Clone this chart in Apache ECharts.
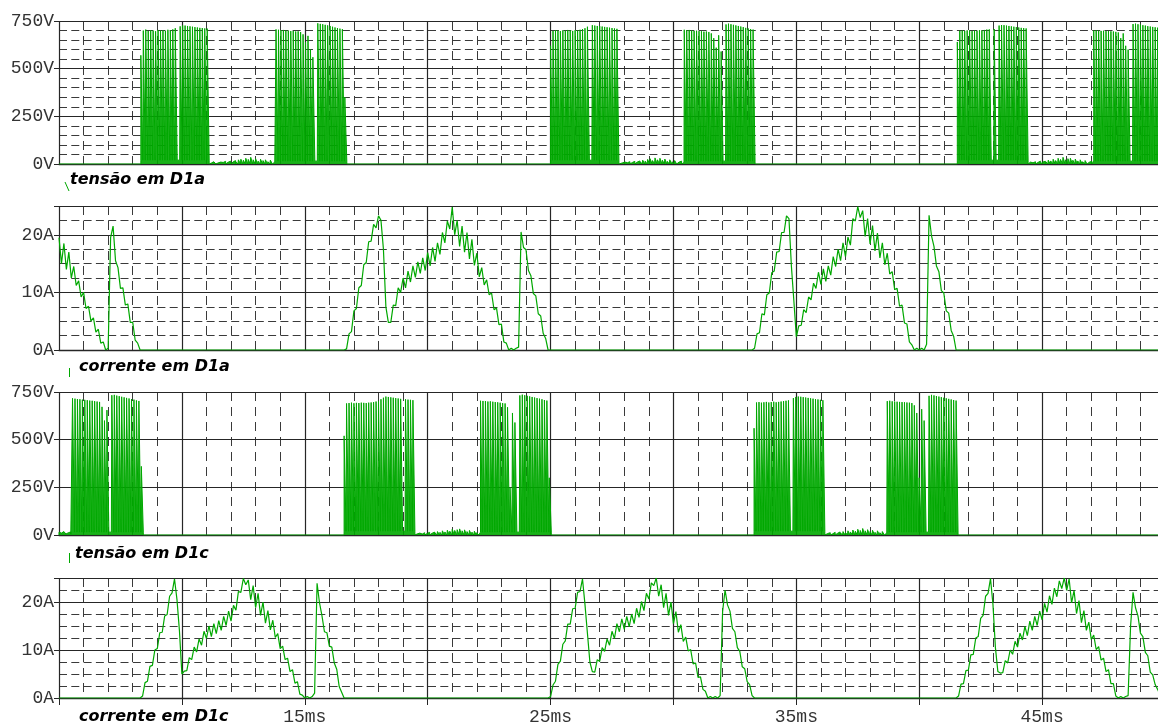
<!DOCTYPE html>
<html><head><meta charset="utf-8">
<script src="https://cdn.jsdelivr.net/npm/echarts@6/dist/echarts.min.js"></script>
<style>html,body{margin:0;padding:0;background:#fff}#c{width:1158px;height:726px}</style>
</head><body><div id="c"></div>
<script>
// ---------------- axis / tick data ----------------
const T_MIN = 5, T_MAX = 50;            // ms
const PULSE_STEP = 0.1;                 // ms between switching pulses
const PULSE_WIDTH = 0.08;               // ms a pulse stays high
const CURRENT_STEP = 0.1;               // ms between current samples
const xTickLabels = ['15ms', '25ms', '35ms', '45ms'];
const voltTicks = [0, 250, 500, 750];
const currTicks = [0, 10, 20];
const traceNames = ['tensão em D1a', 'corrente em D1a', 'tensão em D1c', 'corrente em D1c'];

// ---------------- tensão em D1a (pulse tops, V) ----------------
const vD1aBurst1 = [570,700,705,698,702,700,696,703,699,701,698,704,700,706,712,20,722,727,726,724,722,720,718,716,714,713,711,710];
const vD1aNoise1 = [8,5,12,6,10,8,14,9,15,10,18,12,22,25,20,30,24,35,22,28,15,25,18,22,12,20,10];
const vD1aBurst2 = [706,704,702,703,700,699,697,698,695,696,692,680,640,672,600,560,15,738,735,733,730,727,724,720,716,713,710,707,350];
const vD1aBurst3 = [620,698,702,700,697,701,699,703,700,698,702,700,704,708,712,720,20,728,726,724,723,721,719,717,715,713,711,709];
const vD1aNoise2 = [6,10,7,12,8,14,10,16,12,20,15,24,28,18,32,22,30,20,26,14,22,12,18,10,15,8];
const vD1aBurst4 = [704,702,703,700,698,699,697,696,694,695,692,685,660,610,675,590,15,732,736,733,730,727,724,721,718,714,711,708,705];
const vD1aBurst5 = [640,699,700,698,701,699,697,700,699,702,700,703,705,706,20,708,20,726,729,728,726,724,722,720,718,716,714,713,711];
const vD1aNoise3 = [10,6,12,8,15,10,14,12,20,16,25,18,30,24,35,22,28,30,20,26,16,22,12,18,10,14];
const vD1aBurst6 = [700,701,699,698,699,697,698,696,695,693,690,660,685,620,600,15,734,736,733,731,728,726,723,721,719,717,715,713];
const vD1aSegStart = [8.33, 11.1, 13.83, 25.0, 27.85, 30.44, 41.55, 44.45, 47.1];
const vD1aSegLow = [20, 0, 15, 20, 0, 15, 20, 0, 15];
const vD1aSegTops = [vD1aBurst1, vD1aNoise1, vD1aBurst2, vD1aBurst3, vD1aNoise2, vD1aBurst4, vD1aBurst5, vD1aNoise3, vD1aBurst6];

// ---------------- tensão em D1c (pulse tops, V) ----------------
const vD1cNoise0 = [15,10,18,12,16];
const vD1cBurstA = [717,715,713,712,710,709,707,705,704,702,700,698,672,600,655,15,733,735,731,728,725,722,719,716,713,710,706,703,360];
const vD1cBurstB1 = [520,690,692,694,691,693,692,694,693,692,694,695,697,700,703,712,720,726,724,722,720,718,716,714,20,712,710,709,707];
const vD1cNoise1 = [6,10,5,12,8,14,9,15,12,18,14,22,16,25,20,30,24,28,32,22,27,18,24,15,20,12];
const vD1cBurstB2 = [704,703,702,700,701,699,697,696,694,692,690,670,250,640,590,15,732,736,733,730,727,724,721,718,715,712,708,705,300];
const vD1cBurstB4 = [560,695,697,694,696,698,695,697,699,696,698,700,702,704,706,20,718,724,726,725,723,721,719,717,715,713,711,709,707];
const vD1cNoise2 = [8,12,6,14,9,16,11,18,13,22,16,26,20,30,24,34,22,28,18,25,14,22,12,18,10];
const vD1cBurstB5 = [702,704,701,700,699,698,697,696,695,694,692,680,640,300,660,600,15,730,735,732,729,726,723,720,717,714,711,708,705];
const vD1cSegStart = [5.0, 5.55, 16.6, 19.5, 22.15, 33.28, 36.2, 38.7];
const vD1cSegLow = [5, 15, 20, 0, 15, 20, 0, 15];
const vD1cSegTops = [vD1cNoise0, vD1cBurstA, vD1cBurstB1, vD1cNoise1, vD1cBurstB2, vD1cBurstB4, vD1cNoise2, vD1cBurstB5];

// ---------------- corrente em D1a (A) ----------------
const iD1aSeg1 = [19.5,15,18.5,14,17,12.5,14.5,11.2,12,9.2,10,7.2,7.6,5,5.6,3.1,3.6,1.2,1.4,0,0.3,19.5,21.5,15.5,14.3,10.7,10.8,7.8,8,4.8,4.8,1.7,1.2,0,0];
const iD1aSeg2 = [0,0.2,2.8,3.2,6.8,7.2,10.8,11.2,14.8,15.2,
  18.8,18.9,21.8,21.2,23.3,22.5,17.5,7.5,4.8,4.8,
  7.8,7.7,10.8,10,12.5,10.8,13.7,11.8,14.6,12.6,
  15.3,13.3,16,13.8,16.9,14.6,17.8,15.4,18.6,16.6,
  20.4,18.6,22.4,21,24.8,20,22.5,18,21.5,17,
  20.4,15.8,19.2,14.7,16.8,12.7,14.3,11.3,12.2,9.6,
  9.9,7,7.3,4.4,4.5,1.4,1.2,0,0.3,0,
  0.3,0.5,20.5,17.8,17.4,13.8,12.9,9.8,9.4,6.3,
  5.9,2.9,2,0,0];
const iD1aSeg3 = [0,0.3,2.8,3,6.3,6.1,9.6,9.9,13.4,13.7,
  17,17.1,20.4,20.4,23.3,22.8,14.5,8.5,2.3,4.2,
  4.3,7,6.5,9.2,8.7,11.6,10.7,13.5,11.4,14.1,
  11.9,14.6,13,16.2,14.5,17.5,15.5,18.6,16.2,19.6,
  18.2,22.8,22.4,24.9,23,24.2,19.7,22.8,18.4,21.6,
  17.2,20.3,16,18.6,14.8,16.8,13.2,13.6,10.5,10.7,
  7.6,7.8,4.7,4.5,1.4,0.9,0,0.3,0,0.3,
  0,1,23.4,19.8,18,14.6,13.6,10.3,9.9,6.8,
  6.4,3.4,2.4,0,0];
const iD1aSegStart = [5.0, 16.6, 33.2];
const iD1aSegs = [iD1aSeg1, iD1aSeg2, iD1aSeg3];

// ---------------- corrente em D1c (A) ----------------
const iD1cSeg1 = [0,0.4,3.2,3.5,6.6,6.8,10,10.3,13.6,13.7,
  17.1,17.4,21.2,21.9,24.8,20.5,14,5,5.6,5.7,
  8.4,8,10.6,9.6,12.3,11,13.9,12.4,15,12.8,
  15.5,13.4,16.1,14.1,17,15.1,18.1,16,19.3,18.3,
  22.2,22,24.9,23.6,24.6,20.5,23.4,18.8,21.8,17.2,
  20,15.6,18.2,14.2,16.2,12.6,13.4,10.3,10.8,8,
  8.3,5.5,5.9,3.1,3.4,0.8,0.6,0,0.3,0,
  0.3,1,23.9,19.8,17.1,13.8,13.6,10.8,10.6,7.3,
  6,2.4,1.2,0];
const iD1cSeg2 = [0,0.3,2.7,3.5,7,7.7,11.2,11.9,15.4,15.4,
  18.6,18.7,22,22.2,24.8,19.5,13.5,7.5,5.5,5.4,
  8,7.6,10.5,9.7,12.3,11,13.9,12.4,15.5,13.8,
  16.5,14.3,17,14.8,17.5,15.5,18.7,16.8,20.1,18.2,
  21.8,20.6,24,23.4,25,21.2,23.6,18.8,21.8,17.2,
  20,15.5,18,13.7,15.3,11.8,12.7,9.8,10.1,7.1,
  7.3,4.3,4.4,1.8,1.4,0,0.3,0,0.3,0,
  0.5,18,22.5,19.4,18.1,14.5,13.8,10.5,9.7,6.5,
  6.1,3.4,2.8,0.5,0];
const iD1cSeg3 = [0,0.4,2.9,3,5.7,5.8,9,9.1,12.5,12.8,
  16.6,17.2,21.2,21.8,24.9,19.5,10.5,5.5,5.2,5.3,
  7.8,7.3,10,9.1,11.8,10.6,13.5,12.1,14.9,13,
  16,14.1,17,15.1,18.1,16.3,19.7,17.9,21.3,19.5,
  22.9,21.1,24.4,22.8,25,22.4,24.8,19.8,22.4,17.6,
  20.3,15.7,18.2,14.1,15.8,12.2,13.1,10.1,10.7,7.9,
  8.3,5.5,5.9,3,3,0.4,0,0.3,0,0.3,
  0.5,15,22,18.8,17.1,13.5,12.8,9.5,8.8,5.4,
  4.8,2.8,1.8,0.6,0];
const iD1cSegStart = [8.3, 24.9, 41.5];
const iD1cSegs = [iD1cSeg1, iD1cSeg2, iD1cSeg3];

// ---------------- build series data ----------------
function pulseTrain(starts, lows, tops) {
  const pts = [[T_MIN, 0]];
  starts.forEach((s, k) => {
    pts.push([s, 0]);
    tops[k].forEach((v, i) => {
      const t = s + i * PULSE_STEP;
      pts.push([t, lows[k]]);
      pts.push([t, v]);
      pts.push([t + PULSE_WIDTH, v]);
      pts.push([t + PULSE_WIDTH, lows[k]]);
    });
    pts.push([s + (tops[k].length - 1) * PULSE_STEP + PULSE_WIDTH, 0]);
  });
  pts.push([T_MAX, 0]);
  return pts;
}
function sampled(starts, segs) {
  const pts = [];
  if (starts[0] > T_MIN) pts.push([T_MIN, 0]);
  starts.forEach((s, k) => segs[k].forEach((v, i) => pts.push([s + i * CURRENT_STEP, v])));
  const last = pts[pts.length - 1];
  if (last[1] === 0) pts.push([T_MAX, 0]);
  return pts;
}
const traces = [
  pulseTrain(vD1aSegStart, vD1aSegLow, vD1aSegTops),
  sampled(iD1aSegStart, iD1aSegs),
  pulseTrain(vD1cSegStart, vD1cSegLow, vD1cSegTops),
  sampled(iD1cSegStart, iD1cSegs)
];

// ---------------- layout ----------------
const panels = [
  { top: 21,  height: 143, max: 750, major: 250, minor: 50,   unit: 'V', ticks: voltTicks, pulses: true },
  { top: 206, height: 144, max: 25,  major: 10,  minor: 2.5,  unit: 'A', ticks: currTicks, pulses: false },
  { top: 392, height: 143, max: 750, major: 250, minor: null, unit: 'V', ticks: voltTicks, pulses: true },
  { top: 578, height: 120, max: 25,  major: 10,  minor: 2.5,  unit: 'A', ticks: currTicks, pulses: false }
];
const labelPos = [ [70, 180], [79, 367], [75, 554], [79, 717] ];
const GRID_COLOR = '#262626';
const DASH_COLOR = '#3a3a3a';
const GREEN = '#00a800';
const monoFont = { fontFamily: 'Liberation Mono', fontSize: 18, color: '#333' };

const grid = [], xAxis = [], yAxis = [], series = [];
panels.forEach((p, i) => {
  grid.push({ left: 59, width: 1106, top: p.top, height: p.height, containLabel: false, outerBoundsMode: 'none' });
  const last = i === panels.length - 1;
  xAxis.push({ gridIndex: i, type: 'value', min: T_MIN, max: T_MAX, interval: 1, position: 'bottom', z: 0,
    axisLine: { show: false }, axisTick: { show: false }, axisLabel: { show: false },
    splitLine: { show: true, lineStyle: { color: DASH_COLOR, width: 1, type: [9, 6] } } });
  xAxis.push({ gridIndex: i, type: 'value', min: T_MIN, max: T_MAX, interval: 5, position: 'bottom', z: 1,
    axisLine: { show: true, lineStyle: { color: GRID_COLOR, width: 1.3 } },
    axisTick: { show: last, length: 7, lineStyle: { color: GRID_COLOR } },
    axisLabel: Object.assign({ show: last, margin: 10,
      formatter: v => { const s = Math.round(v) + 'ms'; return xTickLabels.includes(s) ? s : ''; } }, monoFont),
    splitLine: { show: true, lineStyle: { color: GRID_COLOR, width: 1.2 } } });
  yAxis.push({ gridIndex: i, type: 'value', min: 0, max: p.max, interval: p.minor || p.major, position: 'left', z: 0,
    axisLine: { show: false }, axisTick: { show: false }, axisLabel: { show: false },
    splitLine: { show: !!p.minor, lineStyle: { color: DASH_COLOR, width: 1, type: [8, 4.3] } } });
  yAxis.push({ gridIndex: i, type: 'value', min: 0, max: p.max, interval: p.major, position: 'left', z: 1,
    axisLine: { show: false },
    axisTick: { show: true, length: 5, lineStyle: { color: GRID_COLOR } },
    axisLabel: Object.assign({ margin: 5, showMinLabel: true, showMaxLabel: true,
      formatter: v => p.ticks.includes(v) ? v + p.unit : '' }, monoFont),
    splitLine: { show: true, lineStyle: { color: GRID_COLOR, width: 1.2 } } });
  const s = { type: 'line', name: traceNames[i], xAxisIndex: 2 * i + 1, yAxisIndex: 2 * i + 1,
    data: traces[i], showSymbol: false, symbol: 'none', clip: true, silent: true, z: 3,
    lineStyle: { color: GREEN, width: p.pulses ? 1 : 1.2 } };
  if (p.pulses) s.areaStyle = { color: GREEN, opacity: 0.9 };
  series.push(s);
});

const graphic = traceNames.map((n, i) => ({
  type: 'text', x: labelPos[i][0], y: labelPos[i][1], silent: true,
  style: { text: n, fill: '#000', font: 'italic bold 16px "DejaVu Sans"', verticalAlign: 'middle', align: 'left' }
}));
graphic.push(
  { type: 'line', silent: true, shape: { x1: 65, y1: 182, x2: 69, y2: 191 }, style: { stroke: GREEN, lineWidth: 1 } },
  { type: 'line', silent: true, shape: { x1: 69.5, y1: 368, x2: 69.5, y2: 377 }, style: { stroke: GREEN, lineWidth: 1 } },
  { type: 'line', silent: true, shape: { x1: 69.5, y1: 553, x2: 69.5, y2: 563 }, style: { stroke: GREEN, lineWidth: 1 } }
);

const chart = echarts.init(document.getElementById('c'), null, { renderer: 'canvas' });
chart.setOption({ animation: false, backgroundColor: '#fff', grid, xAxis, yAxis, series, graphic });
</script></body></html>
